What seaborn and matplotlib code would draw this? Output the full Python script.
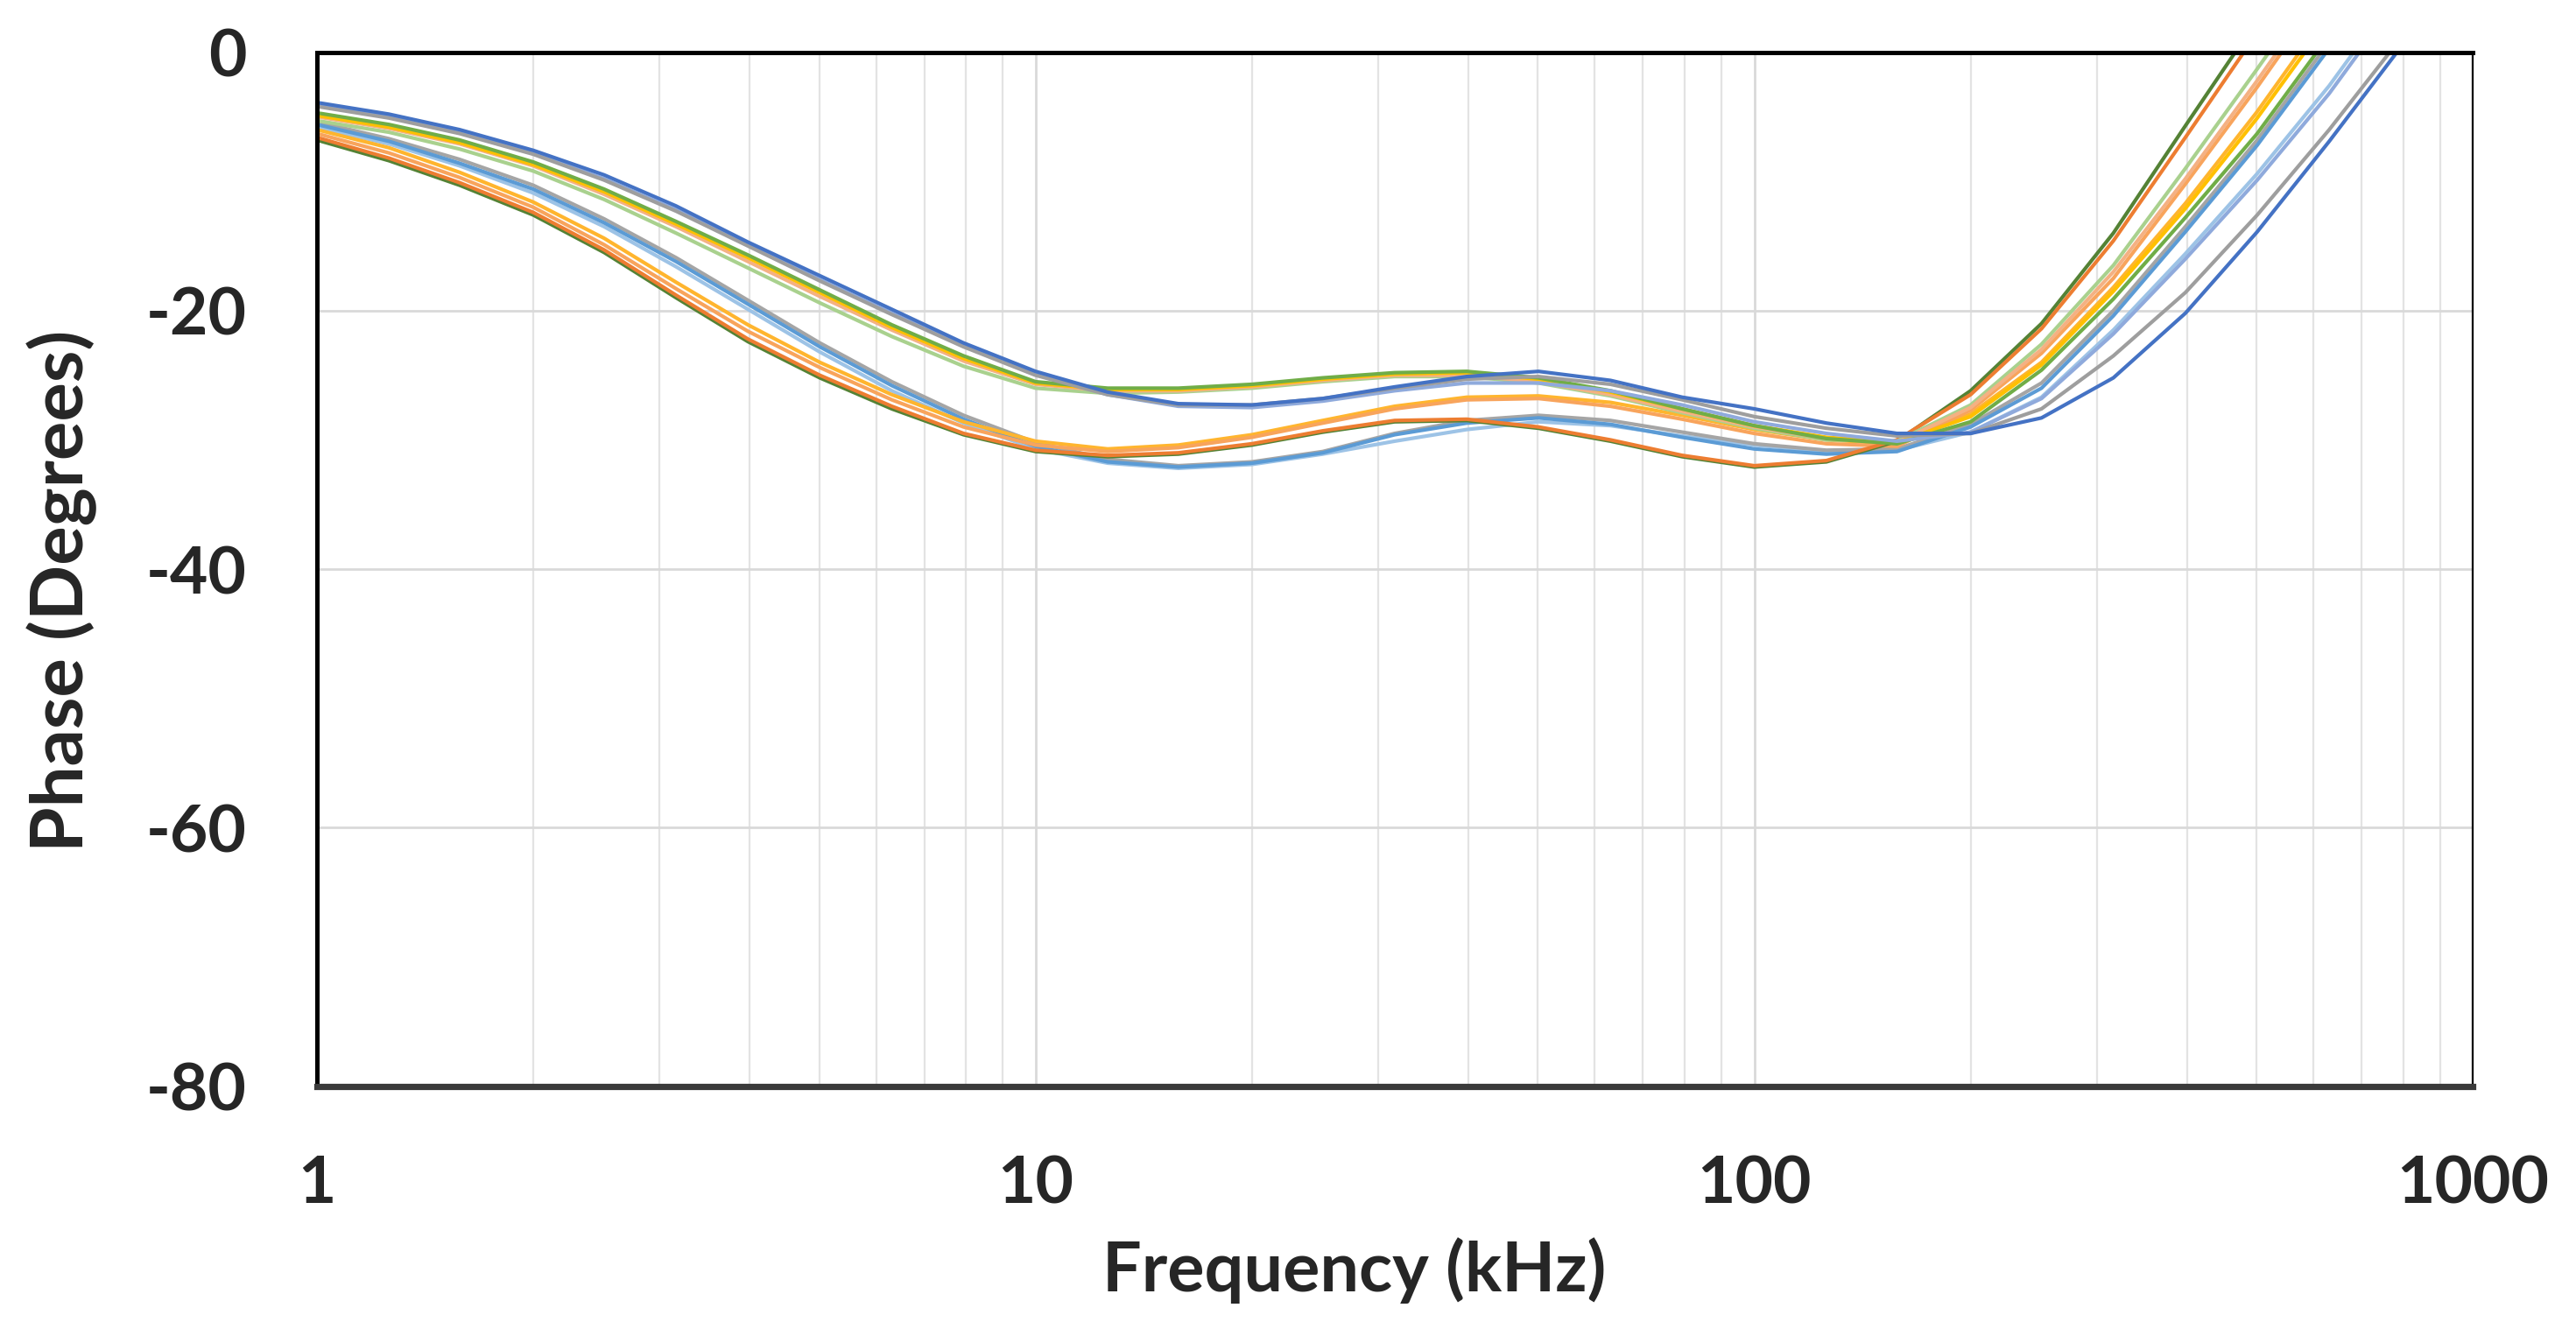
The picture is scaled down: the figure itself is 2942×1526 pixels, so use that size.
import numpy as np
import pandas as pd
import matplotlib.pyplot as plt
import seaborn as sns
from matplotlib.ticker import LogLocator, NullFormatter, FixedLocator, FixedFormatter

# frequency points (kHz), ~0.1 decade apart
freq_khz = [1, 1.26, 1.58, 2, 2.51, 3.16, 3.98, 5.01, 6.31, 7.94, 10, 12.6, 15.8, 20, 25.1,
            31.6, 39.8, 50.1, 63.1, 79.4, 100, 126, 158, 200, 251, 316, 398, 501, 631, 794, 1000]

# phase (degrees), one list per trace
dark_green = [-6.8, -8.4, -10.3, -12.6, -15.5, -19.0, -22.4, -25.2, -27.6, -29.6, -30.9, -31.3, -31.1, -30.4, -29.4,
              -28.6, -28.5, -29.1, -30.1, -31.3, -32.1, -31.7, -30.1, -26.2, -21.0, -14.0, -5.7, 2.5, 10.5, 18.5, 26.0]
orange = [-6.6, -8.2, -10.1, -12.4, -15.3, -18.8, -22.2, -25.0, -27.4, -29.5, -30.8, -31.2, -31.0, -30.3, -29.3,
          -28.5, -28.4, -29.0, -30.0, -31.2, -32.0, -31.6, -30.0, -26.5, -21.4, -14.6, -6.6, 1.5, 9.5, 17.5, 25.0]
light_orange = [-6.3, -7.8, -9.7, -12.0, -14.9, -18.3, -21.6, -24.4, -26.9, -29.0, -30.4, -30.9, -30.6, -29.8, -28.7,
                -27.6, -26.9, -26.8, -27.4, -28.4, -29.5, -30.3, -30.5, -27.7, -23.3, -17.5, -10.2, -2.7, 5.2, 13.0, 21.0]
gold = [-6.0, -7.4, -9.3, -11.6, -14.4, -17.8, -21.1, -24.0, -26.5, -28.6, -30.1, -30.7, -30.4, -29.6, -28.5,
        -27.4, -26.7, -26.6, -27.1, -28.1, -29.2, -30.0, -30.3, -28.0, -24.0, -18.2, -11.7, -4.6, 3.2, 11.0, 19.0]
blue = [-5.6, -6.9, -8.6, -10.6, -13.2, -16.2, -19.5, -22.8, -25.8, -28.4, -30.5, -31.7, -32.1, -31.8, -31.0,
        -29.6, -28.7, -28.3, -28.8, -29.8, -30.7, -31.1, -30.9, -29.0, -26.0, -20.4, -13.9, -7.2, 0.3, 8.0, 16.0]
gray_b = [-5.4, -6.7, -8.3, -10.3, -12.9, -15.9, -19.2, -22.5, -25.5, -28.1, -30.2, -31.5, -32.0, -31.7, -30.9,
          -29.5, -28.5, -28.1, -28.5, -29.4, -30.3, -30.8, -30.7, -28.8, -25.6, -20.0, -13.5, -6.8, 0.8, 8.5, 16.5]
light_blue = [-5.8, -7.1, -8.8, -10.9, -13.5, -16.6, -19.9, -23.2, -26.2, -28.7, -30.7, -31.8, -32.2, -31.9, -31.1,
              -30.1, -29.2, -28.6, -28.9, -29.7, -30.4, -30.9, -30.8, -29.4, -26.7, -21.5, -15.6, -9.4, -2.6, 5.0, 13.0]
light_green = [-5.3, -6.2, -7.5, -9.2, -11.4, -14.0, -16.7, -19.4, -22.0, -24.3, -26.0, -26.4, -26.3, -26.0, -25.5,
               -25.1, -25.1, -25.6, -26.6, -27.9, -29.1, -30.0, -30.1, -27.3, -22.6, -16.5, -9.0, -1.3, 6.6, 14.5, 22.0]
peach = [-5.0, -5.9, -7.1, -8.8, -11.0, -13.5, -16.2, -18.9, -21.5, -23.9, -25.7, -26.2, -26.2, -25.9, -25.4,
         -25.0, -25.0, -25.5, -26.5, -27.8, -29.0, -29.9, -30.2, -27.5, -23.0, -17.0, -9.8, -2.2, 5.7, 13.5, 21.0]
yellow = [-4.9, -5.8, -7.0, -8.7, -10.8, -13.3, -15.9, -18.6, -21.3, -23.7, -25.6, -26.1, -26.1, -25.8, -25.3,
          -24.9, -24.8, -25.3, -26.3, -27.6, -28.9, -29.8, -30.2, -28.2, -24.2, -18.5, -12.1, -5.1, 2.6, 10.5, 18.0]
green = [-4.7, -5.6, -6.8, -8.5, -10.6, -13.1, -15.7, -18.4, -21.1, -23.5, -25.5, -26.0, -26.0, -25.7, -25.2,
         -24.8, -24.7, -25.2, -26.2, -27.6, -28.9, -29.9, -30.3, -28.6, -24.6, -19.1, -12.8, -6.3, 1.3, 9.0, 17.0]
lavender = [-4.1, -5.0, -6.2, -7.8, -9.8, -12.2, -14.9, -17.6, -20.2, -22.7, -24.9, -26.5, -27.4, -27.5, -27.0,
            -26.2, -25.6, -25.6, -26.2, -27.3, -28.6, -29.5, -30.1, -29.4, -26.8, -21.8, -16.0, -9.9, -3.2, 4.4, 12.0]
gray_a = [-4.2, -5.1, -6.3, -7.9, -9.9, -12.3, -15.0, -17.7, -20.3, -22.8, -25.0, -26.5, -27.3, -27.3, -26.8,
          -26.0, -25.3, -25.1, -25.7, -26.9, -28.2, -29.1, -29.7, -29.5, -27.6, -23.5, -18.6, -12.6, -6.0, 1.1, 8.5]
dark_blue = [-3.9, -4.8, -6.0, -7.6, -9.5, -11.9, -14.7, -17.3, -19.9, -22.5, -24.7, -26.3, -27.2, -27.3, -26.8,
             -25.9, -25.1, -24.7, -25.4, -26.7, -27.6, -28.7, -29.5, -29.5, -28.3, -25.2, -20.2, -13.9, -6.9, 0.4, 8.0]

traces = {
    'light_blue': (light_blue, '#9DC3E6'),
    'gray_b': (gray_b, '#A5A5A5'),
    'blue': (blue, '#5B9BD5'),
    'gold': (gold, '#FFB52E'),
    'light_orange': (light_orange, '#F8A45C'),
    'dark_green': (dark_green, '#548235'),
    'orange': (orange, '#ED7D31'),
    'light_green': (light_green, '#A9D18E'),
    'peach': (peach, '#F4B183'),
    'yellow': (yellow, '#FFC000'),
    'green': (green, '#70AD47'),
    'lavender': (lavender, '#8FAADC'),
    'gray_a': (gray_a, '#9E9E9E'),
    'dark_blue': (dark_blue, '#4472C4'),
}

rows = []
for name, (vals, col) in traces.items():
    for f, p in zip(freq_khz, vals):
        rows.append((name, f, p))
df = pd.DataFrame(rows, columns=['trace', 'freq', 'phase'])
palette = {name: col for name, (vals, col) in traces.items()}

sns.set_style('white')
plt.rcParams['font.family'] = ['Lato', 'DejaVu Sans']
plt.rcParams['font.weight'] = 'bold'
plt.rcParams['axes.unicode_minus'] = False

fig = plt.figure(figsize=(14.71, 7.63), dpi=200)
ax = fig.add_axes([0.123, 0.187, 0.837, 0.774])

sns.lineplot(data=df, x='freq', y='phase', hue='trace', palette=palette,
             estimator=None, legend=False, linewidth=1.5, ax=ax)

ax.set_xscale('log')
ax.set_xlim(1, 1000)
ax.set_ylim(-80, 0)

ax.xaxis.set_major_locator(FixedLocator([1, 10, 100, 1000]))
ax.xaxis.set_major_formatter(FixedFormatter(['1', '10', '100', '1000']))
ax.xaxis.set_minor_locator(LogLocator(base=10, subs=np.arange(2, 10), numticks=20))
ax.xaxis.set_minor_formatter(NullFormatter())
ax.set_yticks([0, -20, -40, -60, -80])

ax.grid(True, which='major', axis='both', color='#D9D9D9', linewidth=1.0, zorder=0)
ax.grid(True, which='minor', axis='x', color='#E3E3E3', linewidth=0.8, zorder=0)
ax.set_axisbelow(True)

ax.tick_params(which='both', length=0)
ax.tick_params(axis='y', pad=29, labelsize=27)
ax.tick_params(axis='x', pad=28, labelsize=27)

for side in ['top', 'left']:
    ax.spines[side].set_linewidth(1.8)
    ax.spines[side].set_color('black')
ax.spines['bottom'].set_linewidth(2.6)
ax.spines['bottom'].set_color('#3A3A3A')
ax.spines['right'].set_linewidth(0.8)
ax.spines['right'].set_color('black')

ax.set_xlabel('Frequency (kHz)', fontsize=28.5, fontweight='bold')
ax.set_ylabel('Phase (Degrees)', fontsize=30, fontweight='bold')
ax.xaxis.set_label_coords(0.481, -0.146)
ax.yaxis.set_label_coords(-0.102, 0.479)

fig.savefig('out.png', dpi=200)
